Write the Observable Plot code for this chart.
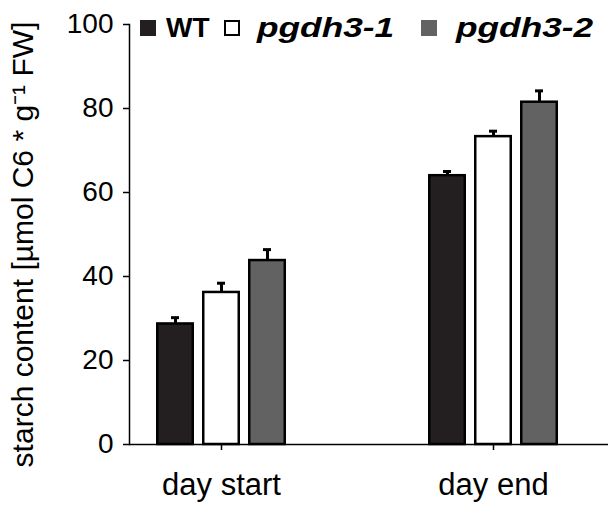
<!DOCTYPE html>
<html>
<head>
<meta charset="utf-8">
<script src="https://cdn.jsdelivr.net/npm/d3@7"></script>
<script src="https://cdn.jsdelivr.net/npm/@observablehq/plot@0.6"></script>
<style>
  html, body { margin: 0; padding: 0; background: #fff; }
  #wrap { position: relative; width: 608px; height: 508px; font-family: "Liberation Sans", Arial, sans-serif; }
  .leg { position: absolute; top: 14px; font-weight: bold; font-size: 28px; line-height: 28px; white-space: nowrap; color: #000; transform-origin: left center; }
  .sw { position: absolute; width: 16px; height: 16px; box-sizing: border-box; border: 2px solid #000; }
</style>
</head>
<body>
<div id="wrap"></div>
<script>
const days = ["day start", "day end"];
const genotypes = ["WT", "pgdh3-1", "pgdh3-2"];
const colors = ["#231f20", "#ffffff", "#626262"];
const wtValues = [28.7, 64.0];
const wtSE = [1.5, 1.0];
const pgdh31Values = [36.2, 73.3];
const pgdh31SE = [2.2, 1.3];
const pgdh32Values = [43.8, 81.5];
const pgdh32SE = [2.6, 2.7];
const yTicks = [0, 20, 40, 60, 80, 100];
const yLabel = "starch content [µmol C6 * g⁻¹ FW]";

const series = [
  {g: genotypes[0], v: wtValues, se: wtSE},
  {g: genotypes[1], v: pgdh31Values, se: pgdh31SE},
  {g: genotypes[2], v: pgdh32Values, se: pgdh32SE}
];
const data = series.flatMap(s => days.map((d, i) => ({day: d, genotype: s.g, value: s.v[i], se: s.se[i], top: s.v[i] + s.se[i]})));

// per-genotype horizontal placement inside each day band (band = 272px)
const barInsets = [[72.25, 164.25], [118.25, 118.25], [164.25, 72.25]];
const capInsets = [[86, 178], [132, 132], [178, 86]];
const dxs = [-46, 0, 46];

const marks = [];
genotypes.forEach((g, k) => {
  const sub = data.filter(d => d.genotype === g);
  marks.push(Plot.ruleX(sub, {x: "day", y1: "value", y2: "top", dx: dxs[k], stroke: "#000", strokeWidth: 3}));
  marks.push(Plot.tickY(sub, {x: "day", y: "top", stroke: "#000", strokeWidth: 3, insetLeft: capInsets[k][0], insetRight: capInsets[k][1]}));
  marks.push(Plot.barY(sub, {x: "day", y: "value", fill: colors[k], stroke: "#000", strokeWidth: 2.5, insetLeft: barInsets[k][0], insetRight: barInsets[k][1]}));
});

const chart = Plot.plot({
  width: 608,
  height: 508,
  marginLeft: 129,
  marginRight: 0,
  marginTop: 24,
  marginBottom: 64,
  style: {fontFamily: "'Liberation Sans', Arial, sans-serif", color: "#000", background: "#fff", overflow: "visible"},
  x: {type: "band", domain: days, range: [85, 629], padding: 0},
  y: {domain: [0, 100]},
  marks: [
    ...marks,
    Plot.frame({anchor: "left", strokeWidth: 1.5}),
    Plot.ruleY([0], {strokeWidth: 1.5}),
    Plot.axisY({ticks: yTicks, tickSize: 6, tickPadding: 10, fontSize: 28, label: null, strokeWidth: 1.5}),
    Plot.axisX({tickSize: 6, tickPadding: 22, fontSize: 31, label: null, strokeWidth: 1.5}),
    Plot.text([yLabel], {text: d => d, frameAnchor: "left", rotate: -90, textAnchor: "middle", dx: -106, dy: 10, fontSize: 30, fill: "#000"})
  ]
});

const wrap = document.getElementById("wrap");
wrap.appendChild(chart);

const legendItems = [
  {label: genotypes[0], color: colors[0], italic: false, sq: 140, tx: 166},
  {label: genotypes[1], color: colors[1], italic: true, sq: 224, tx: 257},
  {label: genotypes[2], color: colors[2], italic: true, sq: 421, tx: 456}
];
legendItems.forEach(it => {
  const sw = document.createElement("div");
  sw.className = "sw";
  sw.style.left = it.sq + "px";
  sw.style.top = "20px";
  sw.style.background = it.color;
  if (it.color !== "#ffffff") sw.style.border = "none";
  wrap.appendChild(sw);
  const t = document.createElement("div");
  t.className = "leg";
  t.style.left = it.tx + "px";
  t.style.fontStyle = it.italic ? "italic" : "normal";
  if (it.italic) t.style.transform = "scaleX(1.26)";
  t.textContent = it.label;
  wrap.appendChild(t);
});
</script>
</body>
</html>
